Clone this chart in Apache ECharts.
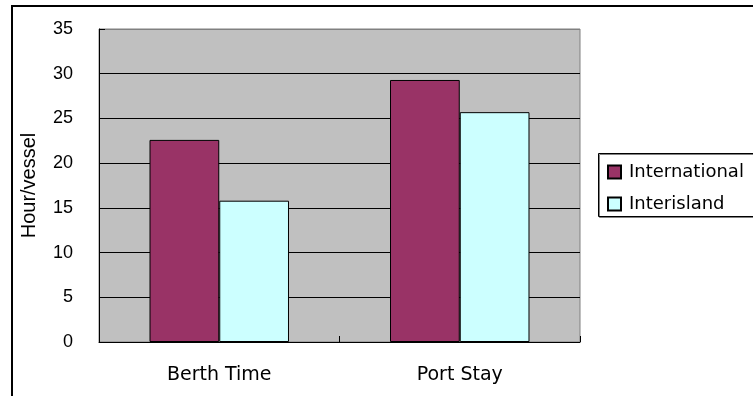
<!DOCTYPE html>
<html>
<head>
<meta charset="utf-8">
<title>Berth Time and Port Stay</title>
<script src="https://cdn.jsdelivr.net/npm/echarts@6/dist/echarts.min.js"></script>
<style>
  html, body { margin: 0; padding: 0; background: #fff; }
  #chart { width: 753px; height: 396px; }
</style>
</head>
<body>
<div id="chart"></div>
<script>
// Average hours per vessel, by traffic type
const categories = ['Berth Time', 'Port Stay'];
const internationalHours = [22.6, 29.3];
const interislandHours = [15.8, 25.7];
const seriesNames = ['International', 'Interisland'];
const yAxisTitle = 'Hour/vessel';

const chart = echarts.init(document.getElementById('chart'), null, { renderer: 'canvas' });

const barBorder = { borderColor: '#000', borderWidth: 1 };

chart.setOption({
  animation: false,
  backgroundColor: '#fff',
  graphic: [
    {
      // outer chart frame, running past the right and bottom edges of the page
      type: 'rect',
      silent: true,
      shape: { x: 12, y: 6, width: 900, height: 500 },
      style: { fill: 'none', stroke: '#000', lineWidth: 2 },
      z: 0
    },
    {
      // legend frame, also running past the right edge
      type: 'rect',
      silent: true,
      shape: { x: 598.5, y: 153.5, width: 300, height: 63 },
      style: {
        fill: '#fff', stroke: '#000', lineWidth: 1,
        shadowColor: '#808080', shadowOffsetX: 1, shadowOffsetY: 1, shadowBlur: 0
      },
      z: 1
    }
  ],
  grid: {
    left: 99, top: 29, right: 173, bottom: 54,
    show: true,
    backgroundColor: '#C0C0C0',
    borderColor: '#808080',
    borderWidth: 1
  },
  legend: {
    orient: 'vertical',
    left: 598, top: 153,
    padding: [10, 5, 4, 9],
    itemWidth: 13, itemHeight: 13,
    itemGap: 14,
    icon: 'rect',
    z: 5,
    textStyle: { fontFamily: 'DejaVu Sans', fontSize: 18, color: '#000', padding: [0, 0, 0, 3] },
    data: seriesNames
  },
  xAxis: {
    type: 'category',
    data: categories,
    axisLine: { show: true, lineStyle: { color: '#000', width: 1 } },
    axisTick: { show: true, inside: true, length: 6, alignWithLabel: false, lineStyle: { color: '#000' } },
    axisLabel: { fontFamily: 'DejaVu Sans', fontSize: 19, color: '#000', margin: 24 },
    splitLine: { show: false }
  },
  yAxis: {
    type: 'value',
    min: 0, max: 35, interval: 5,
    name: yAxisTitle,
    nameLocation: 'middle',
    nameGap: 60,
    nameTextStyle: { fontFamily: 'Liberation Sans', fontSize: 20, color: '#000' },
    axisLine: { show: true, lineStyle: { color: '#000', width: 1 } },
    axisTick: { show: true, inside: true, length: 6, lineStyle: { color: '#000' } },
    axisLabel: { fontFamily: 'Liberation Sans', fontSize: 18, color: '#000', margin: 26 },
    splitLine: {
      show: true,
      lineStyle: { color: ['#000', '#000', '#000', '#000', '#000', '#000', '#000', '#808080'], width: 1 }
    }
  },
  series: [
    {
      name: seriesNames[0],
      type: 'bar',
      data: internationalHours,
      barGap: '0%',
      barCategoryGap: '42%',
      itemStyle: Object.assign({ color: '#993366' }, barBorder)
    },
    {
      name: seriesNames[1],
      type: 'bar',
      data: interislandHours,
      barGap: '0%',
      barCategoryGap: '42%',
      itemStyle: Object.assign({ color: '#CCFFFF' }, barBorder)
    }
  ]
});
</script>
</body>
</html>
